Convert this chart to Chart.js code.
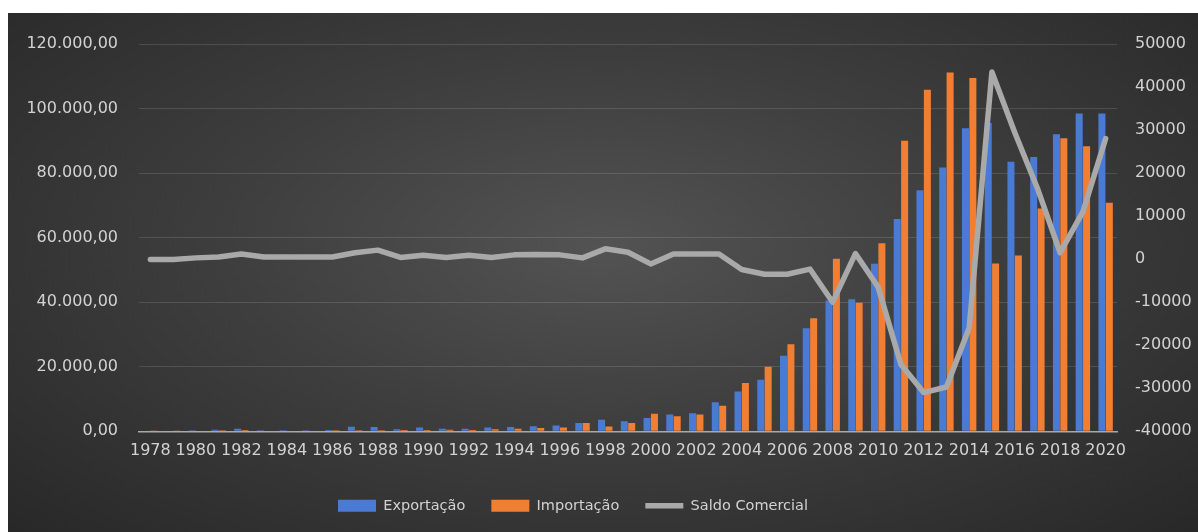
<!DOCTYPE html>
<html>
<head>
<meta charset="utf-8">
<script src="https://cdn.jsdelivr.net/npm/chart.js@4.4.0/dist/chart.umd.min.js"></script>
<style>
  html, body { margin: 0; background: #fff; }
  #wrap {
    position: absolute; left: 8px; top: 13px; width: 1190px; height: 519px;
    background: radial-gradient(ellipse at 50% 45%, #535353 0%, #3e3e3e 45%, #282828 100%);
  }
</style>
</head>
<body>
<div id="wrap"><canvas id="tradeChart"></canvas></div>
<script>
const years = ['1978', '1979', '1980', '1981', '1982', '1983', '1984', '1985', '1986', '1987',
  '1988', '1989', '1990', '1991', '1992', '1993', '1994', '1995', '1996', '1997',
  '1998', '1999', '2000', '2001', '2002', '2003', '2004', '2005', '2006', '2007',
  '2008', '2009', '2010', '2011', '2012', '2013', '2014', '2015', '2016', '2017',
  '2018', '2019', '2020'];

const exportacao = [200, 200, 300, 500, 800, 300, 300, 300, 400, 1400,
  1300, 600, 1200, 800, 800, 1200, 1300, 1600, 1800, 2600,
  3600, 3100, 4100, 5200, 5600, 9000, 12300, 16000, 23400, 31900,
  40500, 40900, 51900, 65800, 74700, 81700, 93900, 95500, 83500, 85000,
  92000, 98500, 98500];

const importacao = [100, 100, 200, 300, 400, 200, 200, 200, 300, 300,
  300, 400, 400, 500, 400, 600, 800, 1000, 1200, 2600,
  1500, 2600, 5400, 4700, 5200, 7900, 15000, 20000, 27000, 35000,
  53500, 39800, 58300, 90000, 105800, 111200, 109500, 52000, 54500, 69000,
  90800, 88300, 70800];

const saldoComercial = [-100, -100, 300, 500, 1200, 500, 500, 500, 500, 1500,
  2100, 400, 900, 400, 900, 400, 1000, 1100, 1000, 300,
  2400, 1600, -1100, 1200, 1200, 1200, -2400, -3500, -3500, -2300,
  -10000, 1300, -6500, -24500, -31000, -29700, -16000, 43500, 29500, 16500,
  1500, 11000, 28000];

const leftTicks = [0, 20000, 40000, 60000, 80000, 100000, 120000];
const rightTicks = [-40000, -30000, -20000, -10000, 0, 10000, 20000, 30000, 40000, 50000];

const textColor = '#d2d2d2';
const tickFont = { family: 'DejaVu Sans', size: 16 };

// 120000 -> "120.000,00"
function formatBR(v) {
  const s = String(Math.round(v)).replace(/\B(?=(\d{3})+(?!\d))/g, '.');
  return s + ',00';
}

// fixed axis widths; keep label padding from pushing the plot area down
function fixWidth(w) {
  return s => {
    s.width = w;
    s.paddingTop = 10;
    s.paddingBottom = 10;
  };
}

// the legend sits a little left of the canvas centre
const legendShift = {
  id: 'legendShift',
  afterLayout(chart) {
    const lg = chart.legend;
    if (!lg) return;
    lg.left -= 30;
    lg.right -= 30;
    lg.top += 2;
    lg.bottom += 2;
  }
};

const ctx = document.getElementById('tradeChart').getContext('2d');

const tradeChart = new Chart(ctx, {
  type: 'bar',
  data: {
    labels: years,
    datasets: [
      {
        label: 'Exportação',
        data: exportacao,
        backgroundColor: '#4a7bd4',
        yAxisID: 'y',
        order: 1,
        pointStyle: 'rect',
        categoryPercentage: 0.65,
        barPercentage: 0.95
      },
      {
        label: 'Importação',
        data: importacao,
        backgroundColor: '#f07f33',
        yAxisID: 'y',
        order: 1,
        pointStyle: 'rect',
        categoryPercentage: 0.65,
        barPercentage: 0.95
      },
      {
        type: 'line',
        label: 'Saldo Comercial',
        data: saldoComercial,
        borderColor: '#a9a9a9',
        backgroundColor: '#a9a9a9',
        borderWidth: 5.5,
        borderCapStyle: 'round',
        borderJoinStyle: 'round',
        pointRadius: 0,
        pointStyle: 'line',
        tension: 0,
        yAxisID: 'y1',
        order: 0
      }
    ]
  },
  options: {
    responsive: true,
    maintainAspectRatio: false,
    animation: false,
    layout: { padding: { top: 31, bottom: 11, left: 0, right: 0 } },
    plugins: {
      tooltip: { enabled: false },
      legend: {
        position: 'bottom',
        labels: {
          color: textColor,
          font: { family: 'DejaVu Sans', size: 14.5 },
          usePointStyle: true,
          pointStyleWidth: 38,
          boxHeight: 12,
          padding: 26,
          sort: (a, b) => a.datasetIndex - b.datasetIndex
        }
      }
    },
    scales: {
      x: {
        grid: { display: false, drawTicks: false },
        border: { color: '#a8a8a8', width: 1.5 },
        ticks: {
          color: textColor,
          font: tickFont,
          autoSkip: false,
          maxRotation: 0,
          padding: 10,
          callback: (v, i) => (i % 2 === 0 ? years[i] : '')
        }
      },
      y: {
        position: 'left',
        min: leftTicks[0],
        max: leftTicks[leftTicks.length - 1],
        afterBuildTicks: s => { s.ticks = leftTicks.map(v => ({ value: v })); },
        afterFit: fixWidth(131),
        grid: { color: 'rgba(255,255,255,0.13)', drawTicks: false },
        border: { display: false },
        ticks: { color: textColor, font: tickFont, padding: 21, callback: v => formatBR(v) }
      },
      y1: {
        position: 'right',
        min: rightTicks[0],
        max: rightTicks[rightTicks.length - 1],
        afterBuildTicks: s => { s.ticks = rightTicks.map(v => ({ value: v })); },
        afterFit: fixWidth(81),
        grid: { display: false, drawTicks: false },
        border: { display: false },
        ticks: { color: textColor, font: tickFont, padding: 18, callback: v => String(v) }
      }
    }
  },
  plugins: [legendShift]
});
</script>
</body>
</html>
